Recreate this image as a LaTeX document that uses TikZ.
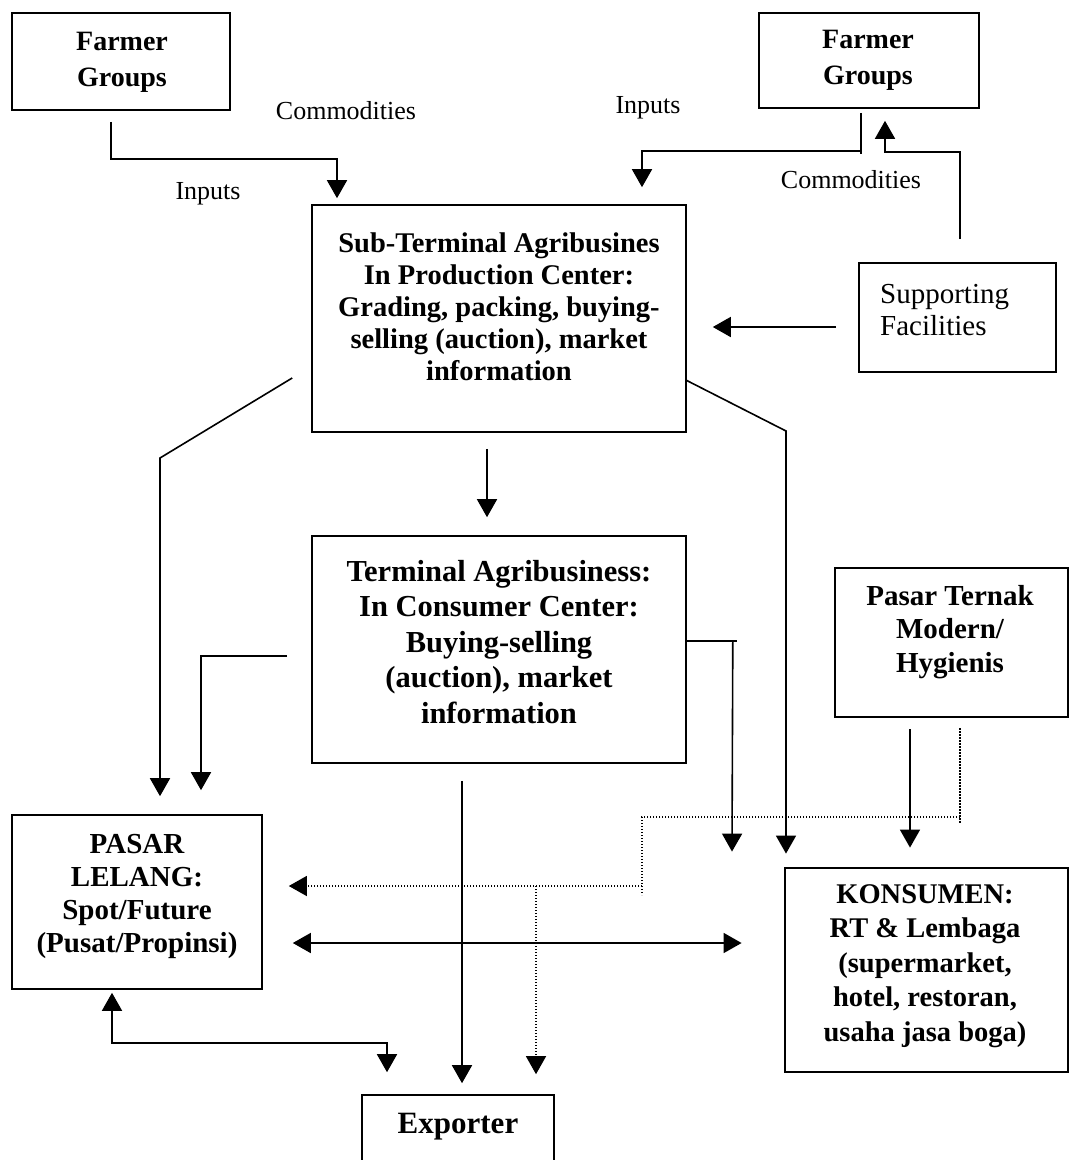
\documentclass[tikz,border=0pt]{standalone}
\usepackage{fontspec}
\setmainfont{Liberation Serif}
\usetikzlibrary{arrows.meta,calc}
\begin{document}
\begin{tikzpicture}[x=1pt,y=-1pt,
  box/.style={draw,line width=1.6pt,inner sep=0pt},
  heavybox/.style={draw,line width=2.8pt,inner sep=0pt},
  btxt/.style={align=center,inner sep=0pt,font=\fontsize{29}{33}\selectfont\bfseries},
  lbl/.style={inner sep=0pt,font=\fontsize{26}{30}\selectfont},
  ln/.style={line width=1.6pt},
  arr/.style={ln,-{Triangle[length=18pt,width=20pt]}},
  darr/.style={ln,{Triangle[length=18pt,width=20pt]}-{Triangle[length=18pt,width=20pt]}},
  dotln/.style={line width=1.3pt,dash pattern=on 1.3pt off 1.7pt},
  dotarr/.style={dotln,-{Triangle[length=18pt,width=20pt]}}
]
\useasboundingbox (0,0) rectangle (1070,1160);

% ---------- boxes ----------
\node[box,minimum width=218pt,minimum height=97pt] (fg1) at (121,61.5) {};
\node[btxt,font=\fontsize{28}{36}\selectfont\bfseries] (fg1t) at (122,62) {Farmer\\Groups};

\node[box,minimum width=220pt,minimum height=95pt] (fg2) at (869,60.5) {};
\node[btxt,font=\fontsize{28}{36}\selectfont\bfseries] (fg2t) at (868,60) {Farmer\\Groups};

\node[box,minimum width=374pt,minimum height=227pt] (sub) at (499,318.5) {};
\node[btxt,font=\fontsize{28.5}{32}\selectfont\bfseries] (subt) at (499,307)
  {Sub-Terminal Agribusines\\In Production Center:\\Grading, packing, buying-\\selling (auction), market\\information};

\node[box,minimum width=197pt,minimum height=109pt] (sup) at (957.5,317.5) {};
\node[inner sep=0pt,align=left,anchor=west,font=\fontsize{29}{32}\selectfont] (supt) at (880,310) {Supporting\\Facilities};

\node[box,minimum width=374pt,minimum height=227pt] (term) at (499,649.5) {};
\node[btxt,font=\fontsize{30.5}{35.5}\selectfont\bfseries] (termt) at (499,642)
  {Terminal Agribusiness:\\In Consumer Center:\\Buying-selling\\(auction), market\\information};

\node[heavybox,minimum width=233pt,minimum height=149pt] (pt) at (951.5,642.5) {};
\node[btxt,font=\fontsize{29}{33.5}\selectfont\bfseries] (ptt) at (950,632) {Pasar Ternak\\Modern/\\Hygienis};

\node[box,minimum width=250pt,minimum height=174pt] (pasar) at (137,902) {};
\node[btxt] (pasart) at (137,896) {PASAR\\LELANG:\\Spot/Future\\(Pusat/Propinsi)};

\node[heavybox,minimum width=283pt,minimum height=204pt] (kons) at (926.5,970) {};
\node[btxt,font=\fontsize{28.5}{34.5}\selectfont\bfseries] (konst) at (925,966)
  {KONSUMEN:\\RT \& Lembaga\\(supermarket,\\hotel, restoran,\\usaha jasa boga)};

\node[box,minimum width=192pt,minimum height=77pt] (exp) at (458,1133.5) {};
\node[btxt,font=\fontsize{31}{35}\selectfont\bfseries] (expt) at (458,1127) {Exporter};

% ---------- labels ----------
\node[lbl] (c1) at (346,111) {Commodities};
\node[lbl] (i1) at (208,194) {Inputs};
\node[lbl] (i2) at (648,108) {Inputs};
\node[lbl] (c2) at (851,180) {Commodities};

% ---------- connectors ----------
% left farmer groups -> sub-terminal
\draw[arr] ([shift={(-10,11)}]fg1.south) -- ++(0,37) -| ([shift={(-162,-6)}]sub.north);
% right farmer groups -> sub-terminal (inputs)
\draw[ln] ([shift={(-8,4)}]fg2.south) -- ++(0,41);
\draw[arr] ([shift={(-8,42)}]fg2.south) -| ([shift={(143,-17)}]sub.north);
% supporting facilities -> farmer groups (commodities)
\draw[arr] ([shift={(2.5,-23)}]sup.north) -- ++(0,-87) -| ([shift={(16,12)}]fg2.south);
% supporting facilities -> sub-terminal
\draw[arr] ([shift={(-22,9.5)}]sup.west) -- ([shift={(26,8.5)}]sub.east);
% sub-terminal -> terminal
\draw[arr] ([shift={(-12,16)}]sub.south) -- ([shift={(-12,-18)}]term.north);
% sub-terminal -> pasar lelang
\coordinate (bl) at (160,458);
\draw[arr] ([shift={(-19,59.5)}]sub.west) -- (bl) -- ([shift={(23,-18)}]pasar.north);
% sub-terminal -> konsumen
\coordinate (br) at (786,431);
\draw[arr] ([shift={(-1,61.5)}]sub.east) -- (br) -- ([shift={(-140.5,-13)}]kons.north);
% terminal -> pasar lelang
\draw[arr] ([shift={(-24,6.5)}]term.west) -| ([shift={(64,-24)}]pasar.north);
% terminal -> konsumen
\draw[ln] ([shift={(0,-8.5)}]term.east) -- ++(50,0);
\draw[arr] ([shift={(46,-8.5)}]term.east) -- ([shift={(-194.5,-15)}]kons.north);
% terminal -> exporter
\draw[arr] ([shift={(-37,17)}]term.south) -- ([shift={(4,-11)}]exp.north);
% pasar lelang <-> exporter
\draw[darr] ([shift={(-25,3)}]pasar.south) -- ++(0,50) -| ([shift={(-71,-22)}]exp.north);
% pasar lelang <-> konsumen
\draw[darr] ([shift={(30,41)}]pasar.east) -- ([shift={(-42,-27)}]kons.west);
% pasar ternak -> konsumen
\draw[arr] ([shift={(-41.5,11)}]pt.south) -- ([shift={(-16.5,-19)}]kons.north);
% dotted: pasar ternak -> pasar lelang / exporter
\coordinate (d1) at (960,817);
\coordinate (d2) at (642,817);
\coordinate (d3) at (642,886);
\coordinate (d4) at (536,886);
\draw[dotln] ([shift={(8.5,10)}]pt.south) -- (960,823);
\draw[dotln] (d1) -- (d2) -- (642,895);
\draw[dotarr] (d3) -- ([shift={(26,-16)}]pasar.east);
\draw[dotarr] (d4) -- ([shift={(78,-20)}]exp.north);
\end{tikzpicture}
\end{document}
